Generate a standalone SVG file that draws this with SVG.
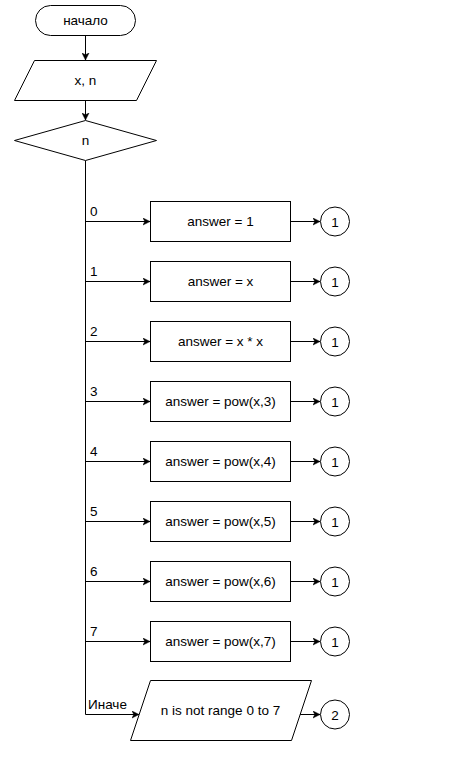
<svg xmlns="http://www.w3.org/2000/svg" width="451" height="781" viewBox="0 0 451 781">
<defs>
<style>
.s{fill:#fff;stroke:#000;stroke-width:1}
.t{font-family:"Liberation Sans",Arial,sans-serif;font-size:13.5px;fill:#000;text-anchor:middle;dominant-baseline:central}
.l{font-family:"Liberation Sans",Arial,sans-serif;font-size:13.5px;fill:#000}
.c{fill:none;stroke:#000;stroke-width:1}
</style>
<marker id="a" markerUnits="userSpaceOnUse" markerWidth="8" markerHeight="8" refX="7" refY="4" orient="auto">
<path d="M0,0.5 L7,4 L0,7.5 L1.8,4 Z" fill="#000" stroke="#000" stroke-width="0.5"/>
</marker>
</defs>
<rect width="451" height="781" fill="#fff"/>
<g id="connectors">
<path class="c" d="M85.5,35.5 V60" marker-end="url(#a)"/>
<path class="c" d="M85.5,100.5 V120" marker-end="url(#a)"/>
<path class="c" d="M85.5,160.5 V714.5"/>
<path class="c" d="M85.5,221.5 H150" marker-end="url(#a)"/>
<path class="c" d="M85.5,281.5 H150" marker-end="url(#a)"/>
<path class="c" d="M85.5,341.5 H150" marker-end="url(#a)"/>
<path class="c" d="M85.5,401.5 H150" marker-end="url(#a)"/>
<path class="c" d="M85.5,461.5 H150" marker-end="url(#a)"/>
<path class="c" d="M85.5,521.5 H150" marker-end="url(#a)"/>
<path class="c" d="M85.5,581.5 H150" marker-end="url(#a)"/>
<path class="c" d="M85.5,641.5 H150" marker-end="url(#a)"/>
<path class="c" d="M85.5,714.5 H139" marker-end="url(#a)"/>
<path class="c" d="M290.5,221.5 H320" marker-end="url(#a)"/>
<path class="c" d="M290.5,281.5 H320" marker-end="url(#a)"/>
<path class="c" d="M290.5,341.5 H320" marker-end="url(#a)"/>
<path class="c" d="M290.5,401.5 H320" marker-end="url(#a)"/>
<path class="c" d="M290.5,461.5 H320" marker-end="url(#a)"/>
<path class="c" d="M290.5,521.5 H320" marker-end="url(#a)"/>
<path class="c" d="M290.5,581.5 H320" marker-end="url(#a)"/>
<path class="c" d="M290.5,641.5 H320" marker-end="url(#a)"/>
<path class="c" d="M300,714.5 H320" marker-end="url(#a)"/>
<text class="l" x="90" y="216">0</text>
<text class="l" x="90" y="276">1</text>
<text class="l" x="90" y="336">2</text>
<text class="l" x="90" y="396">3</text>
<text class="l" x="90" y="456">4</text>
<text class="l" x="90" y="516">5</text>
<text class="l" x="90" y="576">6</text>
<text class="l" x="90" y="636">7</text>
<text class="l" x="88" y="709">Иначе</text>
</g>
<g id="start"><rect class="s" x="35.5" y="5.5" width="100" height="30" rx="15" ry="15"/><text class="t" x="85.5" y="20.5">начало</text></g>
<g id="input"><path class="s" d="M34.5,60.5 H156.5 L136.5,100.5 H14.5 Z"/><text class="t" x="85.5" y="80.5">x, n</text></g>
<g id="decision"><path class="s" d="M85.5,120.5 L156.5,140.5 L85.5,160.5 L14.5,140.5 Z"/><text class="t" x="85.5" y="140.5">n</text></g>
<g id="b0"><rect class="s" x="150.5" y="201.5" width="140" height="40"/><text class="t" x="220.5" y="221.5">answer = 1</text></g>
<g id="b1"><rect class="s" x="150.5" y="261.5" width="140" height="40"/><text class="t" x="220.5" y="281.5">answer = x</text></g>
<g id="b2"><rect class="s" x="150.5" y="321.5" width="140" height="40"/><text class="t" x="220.5" y="341.5">answer = x * x</text></g>
<g id="b3"><rect class="s" x="150.5" y="381.5" width="140" height="40"/><text class="t" x="220.5" y="401.5">answer = pow(x,3)</text></g>
<g id="b4"><rect class="s" x="150.5" y="441.5" width="140" height="40"/><text class="t" x="220.5" y="461.5">answer = pow(x,4)</text></g>
<g id="b5"><rect class="s" x="150.5" y="501.5" width="140" height="40"/><text class="t" x="220.5" y="521.5">answer = pow(x,5)</text></g>
<g id="b6"><rect class="s" x="150.5" y="561.5" width="140" height="40"/><text class="t" x="220.5" y="581.5">answer = pow(x,6)</text></g>
<g id="b7"><rect class="s" x="150.5" y="621.5" width="140" height="40"/><text class="t" x="220.5" y="641.5">answer = pow(x,7)</text></g>
<g id="else"><path class="s" d="M150.5,680.5 H311.5 L291.5,740.5 H130.5 Z"/><text class="t" x="220.5" y="710.5">n is not range 0 to 7</text></g>
<g id="c0"><circle class="s" cx="335" cy="221.5" r="14.5"/><text class="t" x="335" y="222">1</text></g>
<g id="c1"><circle class="s" cx="335" cy="281.5" r="14.5"/><text class="t" x="335" y="282">1</text></g>
<g id="c2"><circle class="s" cx="335" cy="341.5" r="14.5"/><text class="t" x="335" y="342">1</text></g>
<g id="c3"><circle class="s" cx="335" cy="401.5" r="14.5"/><text class="t" x="335" y="402">1</text></g>
<g id="c4"><circle class="s" cx="335" cy="461.5" r="14.5"/><text class="t" x="335" y="462">1</text></g>
<g id="c5"><circle class="s" cx="335" cy="521.5" r="14.5"/><text class="t" x="335" y="522">1</text></g>
<g id="c6"><circle class="s" cx="335" cy="581.5" r="14.5"/><text class="t" x="335" y="582">1</text></g>
<g id="c7"><circle class="s" cx="335" cy="641.5" r="14.5"/><text class="t" x="335" y="642">1</text></g>
<g id="c8"><circle class="s" cx="335" cy="714.5" r="14.5"/><text class="t" x="335" y="715">2</text></g>
</svg>
